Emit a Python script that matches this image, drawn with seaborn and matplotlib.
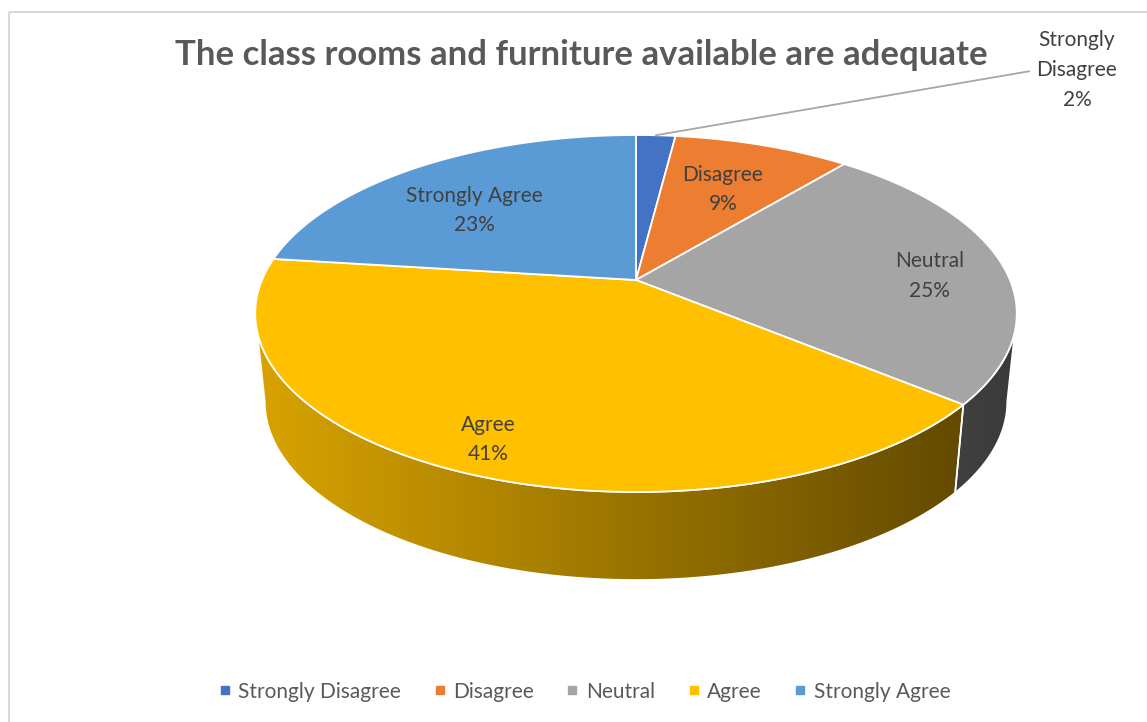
import numpy as np
import matplotlib.pyplot as plt
import seaborn as sns
from matplotlib.patches import Polygon, Rectangle
from matplotlib.lines import Line2D

sns.set_theme(style="white")
plt.rcParams['font.family'] = ['Lato', 'DejaVu Sans']

title = "The class rooms and furniture available are adequate"
categories = ["Strongly Disagree", "Disagree", "Neutral", "Agree", "Strongly Agree"]
percents = [2, 9, 25, 41, 23]
colors = ["#4472C4", "#ED7D31", "#A5A5A5", "#FFC000", "#5B9BD5"]

# pie geometry in pixels, with a bit of perspective like the excel 3d pie
cx, cy = 636, 280
A, B = 374, 172.2
p = 0.1877
depth = 88
kb = 0.975
label_r = [None, 0.65, 0.8, 0.85, 0.72]
label_dy = [0, 2, 9, 2, 15]
fs = 15


def proj(theta, bottom=False, r=1.0):
    u = r * np.cos(theta)
    v = r * np.sin(theta)
    w = 1 + p * v
    k = kb if bottom else 1.0
    x = cx + A * k * u / w
    y = cy - B * v / w + (depth if bottom else 0)
    return x, y


def shade(x):
    return 0.85 - 0.5 * (x - 255) / 762


fig = plt.figure(figsize=(11.47, 7.22), dpi=100)
ax = fig.add_axes([0, 0, 1, 1])

fracs = np.array(percents) / np.sum(percents)
before = np.concatenate([[0], np.cumsum(fracs)[:-1]])
starts = np.pi / 2 - 2 * np.pi * before
ends = starts - 2 * np.pi * fracs

# side walls (front half only)
lo = np.pi + np.arcsin(p)
hi = 2 * np.pi - np.arcsin(p)
gx = np.linspace(240, 1030, 400)
for i in range(len(percents)):
    for shift in (-2 * np.pi, 0, 2 * np.pi):
        a = max(ends[i] + shift, lo)
        b = min(starts[i] + shift, hi)
        if a >= b:
            continue
        th = np.linspace(a, b, 120)
        tx, ty = proj(th)
        bx, by = proj(th[::-1], bottom=True)
        pts = np.column_stack([np.concatenate([tx, bx]), np.concatenate([ty, by])])
        wall = Polygon(pts, closed=True, facecolor='none', edgecolor='white',
                       lw=1.2, zorder=2)
        ax.add_patch(wall)
        base = np.array(plt.matplotlib.colors.to_rgb(colors[i]))
        grad = np.clip(shade(gx)[:, None] * base[None, :], 0, 1)[None, :, :]
        im = ax.imshow(grad, extent=(gx[0], gx[-1], 620, 250), aspect='auto',
                       zorder=1, interpolation='bilinear')
        im.set_clip_path(wall)

# top face
for i in range(len(percents)):
    th = np.linspace(starts[i], ends[i], 100)
    ax_, ay_ = proj(th)
    xs = np.concatenate([[cx], ax_])
    ys = np.concatenate([[cy], ay_])
    ax.fill(xs, ys, color=colors[i], edgecolor='white', lw=1.3, zorder=3)

# labels
txt_color = '#404040'
for i in range(1, len(percents)):
    mid = (starts[i] + ends[i]) / 2
    lx, ly = proj(mid, r=label_r[i])
    ax.text(lx, ly + label_dy[i], "%s\n%d%%" % (categories[i], percents[i]),
            ha='center', va='center', fontsize=fs, color=txt_color,
            linespacing=1.6, zorder=5)

mid0 = (starts[0] + ends[0]) / 2
ax.annotate("%s\n%d%%" % (categories[0].replace(" ", "\n"), percents[0]),
            xy=proj(mid0), xytext=(1077, 70), ha='center', va='center',
            fontsize=fs, color=txt_color, linespacing=1.6, zorder=5,
            arrowprops=dict(arrowstyle='-', color='#A6A6A6', lw=1.3,
                            shrinkA=3, shrinkB=0, relpos=(0, 0.5)))

ax.text(581, 55, title, ha='center', va='center', fontsize=25,
        fontweight='bold', color='#595959')

ax.add_patch(Rectangle((9, 12), 1200, 800, fill=False, edgecolor='#D9D9D9', lw=1.5))

handles = [Line2D([], [], marker='s', ls='', color=c, markersize=5.2) for c in colors]
fig.legend(handles, categories, loc='center', bbox_to_anchor=(0.51, 0.042),
           ncol=5, frameon=False, fontsize=fs, labelcolor='#595959',
           handletextpad=0.4, columnspacing=1.6, handlelength=0.5)

ax.set_xlim(0, 1147)
ax.set_ylim(722, 0)
ax.axis('off')
fig.savefig("out.png", dpi=100)
